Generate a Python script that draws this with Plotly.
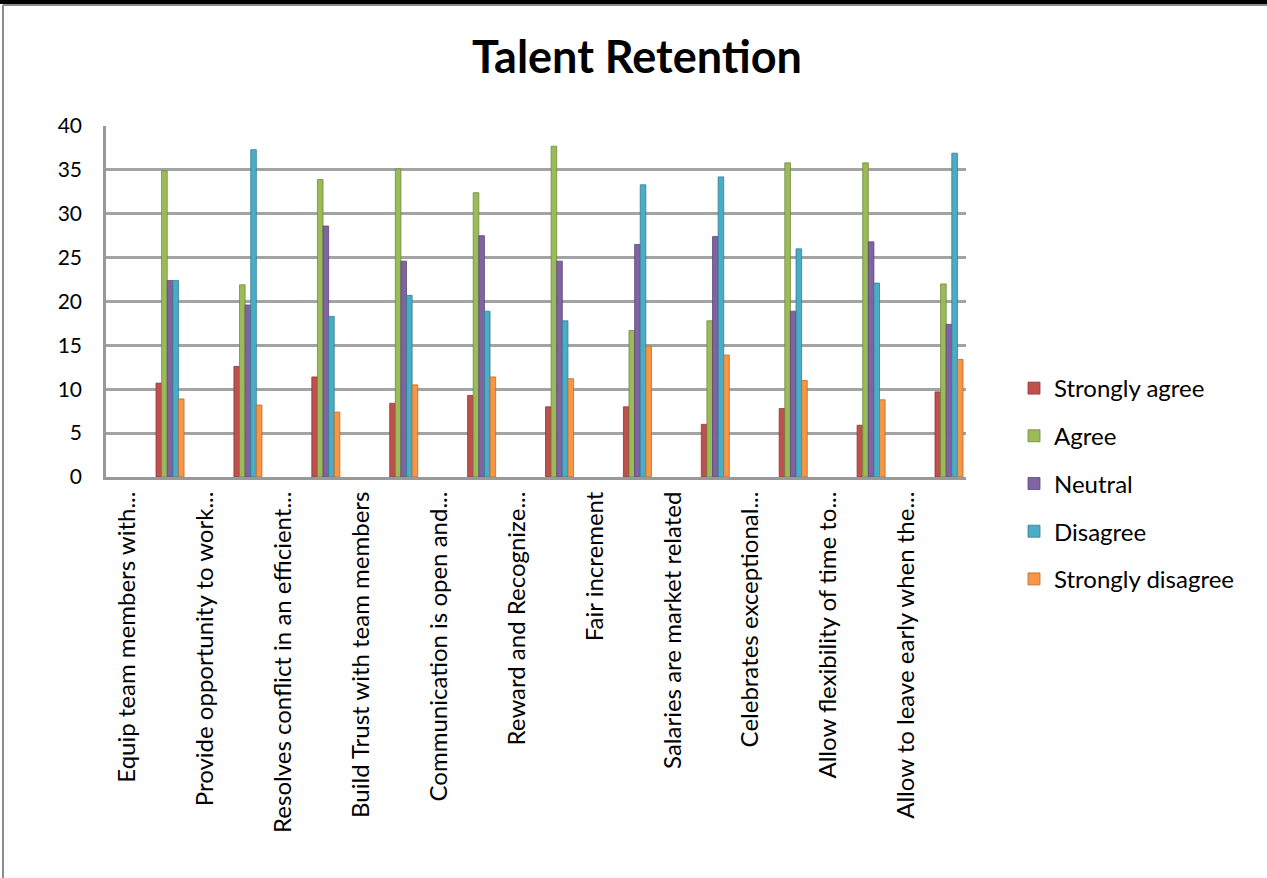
import numpy as np
import plotly.graph_objects as go

categories = [
    "Equip team members with...",
    "Provide opportunity to work...",
    "Resolves conflict in an efficient...",
    "Build Trust with team members",
    "Communication is open and...",
    "Reward and Recognize...",
    "Fair increment",
    "Salaries are market related",
    "Celebrates exceptional...",
    "Allow flexibility of time to...",
    "Allow to leave early when the...",
]
series_names = ["Strongly agree", "Agree", "Neutral", "Disagree", "Strongly disagree"]
strongly_agree = [10.7, 12.6, 11.4, 8.4, 9.3, 8.0, 8.0, 6.0, 7.8, 5.9, 9.7]
agree = [34.9, 21.9, 33.9, 35.1, 32.4, 37.7, 16.7, 17.8, 35.8, 35.8, 22.0]
neutral = [22.4, 19.6, 28.6, 24.6, 27.5, 24.6, 26.5, 27.4, 18.9, 26.8, 17.4]
disagree = [22.4, 37.3, 18.3, 20.7, 18.9, 17.8, 33.3, 34.2, 26.0, 22.1, 36.9]
strongly_disagree = [8.9, 8.2, 7.4, 10.5, 11.4, 11.2, 14.9, 13.9, 11.0, 8.8, 13.4]
y_ticks = [0, 5, 10, 15, 20, 25, 30, 35, 40]

values = [strongly_agree, agree, neutral, disagree, strongly_disagree]
colors = ["#C0504D", "#9BBB59", "#8064A2", "#4BACC6", "#F79646"]
edges = ["#8C3836", "#71893F", "#5C4776", "#357D91", "#B66D31"]

idx = np.arange(len(categories))
bar_w = 0.072
offsets = [0.142, 0.214, 0.286, 0.358, 0.430]

FONT = "Lato"
fig = go.Figure()
for name, vals, c, e, off in zip(series_names, values, colors, edges, offsets):
    fig.add_trace(go.Bar(
        x=idx, y=vals, name=name, width=bar_w, offset=off,
        marker=dict(color=c, line=dict(color=e, width=0.8)),
        legendgroup=name,
    ))

# paper-coordinate helpers for the frame
ml, mr, mt, mb = 106, 301, 126, 401
W, H = 1267, 878
pw, ph = W - ml - mr, H - mt - mb
def px(x):
    return (x - ml) / pw
def py(y):
    return (H - mb - y) / ph

shapes = [
    dict(type="rect", xref="paper", yref="paper", x0=px(0), x1=px(W), y0=py(0), y1=py(4),
         fillcolor="black", line=dict(width=0), layer="above"),
    dict(type="line", xref="paper", yref="paper", x0=px(3), x1=px(W), y0=py(5), y1=py(5),
         line=dict(color="#8c8c8c", width=2)),
    dict(type="line", xref="paper", yref="paper", x0=px(3), x1=px(3), y0=py(5), y1=py(H),
         line=dict(color="#8c8c8c", width=2)),
]

fig.update_layout(
    width=W, height=H,
    margin=dict(l=ml, r=mr, t=mt, b=mb, autoexpand=False),
    paper_bgcolor="white", plot_bgcolor="white",
    barmode="overlay",
    font=dict(family=FONT, color="black"),
    title=dict(text="<b>Talent Retention</b>", x=637 / W, xref="container", xanchor="center",
               y=1 - 57 / H, yref="container", yanchor="middle",
               font=dict(family=FONT, size=45, color="black")),
    legend=dict(x=px(1014), xanchor="left", y=py(366), yanchor="top",
                font=dict(family=FONT, size=24, color="black"),
                traceorder="grouped", tracegroupgap=13.5,
                itemclick=False, bgcolor="rgba(0,0,0,0)"),
    shapes=shapes,
    showlegend=True,
)
fig.update_xaxes(
    range=[-0.5, 10.54], tickmode="array", tickvals=idx - 0.225, ticktext=categories,
    tickangle=-90, showgrid=False, zeroline=False, ticks="",
    showline=True, linecolor="#999999", linewidth=3,
    tickfont=dict(family=FONT, size=24, color="black"), ticklabelstandoff=2,
)
fig.update_yaxes(
    range=[0, 40], tickmode="array", tickvals=y_ticks,
    showgrid=True, gridcolor="#a3a3a3", gridwidth=2.5, zeroline=False,
    showline=True, linecolor="#999999", linewidth=2.5, ticks="",
    tickfont=dict(family=FONT, size=21, color="black"), ticklabelstandoff=17,
)

fig.write_html("out.html")
